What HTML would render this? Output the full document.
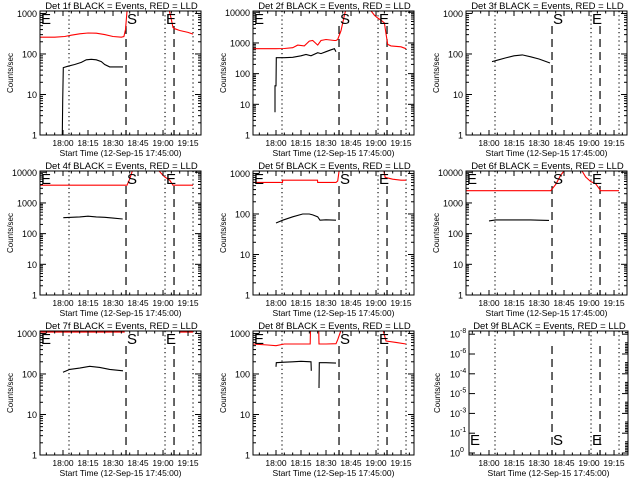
<!DOCTYPE html>
<html><head><meta charset="utf-8"><style>
html,body{margin:0;padding:0;background:#fff;}
svg{display:block;font-family:"Liberation Sans",sans-serif;}
</style></head><body>
<svg id="chart" width="640" height="480" viewBox="0 0 640 480" xmlns="http://www.w3.org/2000/svg">
<rect x="0" y="0" width="640" height="480" fill="#fff"/>
</svg>
<script>
// time in minutes since 17:45
const xTickTimes = [15,30,45,60,75,90];
const xTickLabels = ['18:00','18:15','18:30','18:45','19:00','19:15'];
const dottedTimes = [18.6,76.2,93];
const dashedTimes = [52.8,81.6];
const ticksSmall = ['1','10','100','1000'];
const ticksBig = ['1','10','100','1000','10000'];
const p9TickText = ['0','-1','-3','-5','-4','-6','-8'];

const p1BlackT=[14.6,14.8,15.2,18,22,26,29,32,35,38,40,43,51];
const p1BlackV=[1,7,46,50,55,62,72,74,72,65,55,48,48];
const p1RedT=[1.2,10,16,20,25,30,35,40,45,50,51.5,52.5,53.5,null,78.5,80,81,82,85,90,93];
const p1RedV=[260,260,270,290,315,330,325,300,270,260,270,400,1300,null,1300,700,450,420,380,340,310];

const p2BlackT=[14.4,14.4,15,15.2,20,25,30,33,36,40,42,45,48,50,51];
const p2BlackV=[5.5,40,40,330,330,340,380,420,380,480,450,520,600,650,520];
const p2RedT=[1.2,15,20,25,28,32,35,37,40,42,45,50,51,52,54,56,57,null,71,74,76,78,80,81,82,84,90,93];
const p2RedV=[650,650,660,700,850,800,1150,1200,850,1200,1300,1200,1200,1300,2500,8000,13000,null,13000,8000,6500,5500,4500,2000,900,800,750,650];

const p3BlackT=[16.8,20,25,30,35,40,45,51.6];
const p3BlackV=[65,70,80,90,95,85,75,60];
const p3RedT=[]; const p3RedV=[];

const p4BlackT=[15.2,20,25,30,35,40,45,50.8];
const p4BlackV=[330,340,350,370,350,340,320,300];
const p4RedT=[1.2,52,53.4,55,57,null,71.4,75,76,79,81,93];
const p4RedV=[3800,3800,3800,6000,13000,null,13000,8000,7000,5500,3800,3800];

const p5BlackT=[15,17,19,25,31,35,37,40,41.4,45,51];
const p5BlackV=[60,65,70,85,100,100,95,85,70,72,70];
const p5RedT=[1.2,18.9,19,39.9,40,51,52,53,null,79.5,80.5,85,90,93];
const p5RedV=[600,600,680,680,600,600,650,1300,null,1300,800,720,680,680];

const p6BlackT=[15,19,25,30,35,40,45,51];
const p6BlackV=[260,280,280,280,280,280,275,270];
const p6RedT=[1.2,52,55,58,61,null,70,73,76,79,82,93];
const p6RedV=[2500,2500,4000,8000,13000,null,13000,7000,5000,4200,2500,2500];

const p7BlackT=[15,19,25,31,37,43,51];
const p7BlackV=[110,130,140,155,145,130,120];
const p7RedT=[1.2,52,null,85,93];
const p7RedV=[1080,1080,null,1080,1080];

const p8BlackT=[15,15.2,20,25,30,36,36.2,null,40.8,41,45,51];
const p8BlackV=[150,190,195,200,205,200,120,null,45,190,190,185];
const p8RedT=[1.2,10,15,20,30,35.5,35.7,null,40.6,40.8,45,51,52,54,null,79,81,87,93];
const p8RedV=[550,520,500,550,550,550,1300,null,1300,550,550,560,700,1200,null,1300,650,600,550];

const panels = [
 {n:'1f',bt:p1BlackT,bv:p1BlackV,rt:p1RedT,rv:p1RedV,big:false,letters:[1,1,1]},
 {n:'2f',bt:p2BlackT,bv:p2BlackV,rt:p2RedT,rv:p2RedV,big:true,letters:[1,1,1]},
 {n:'3f',bt:p3BlackT,bv:p3BlackV,rt:p3RedT,rv:p3RedV,big:false,letters:[0,1,1]},
 {n:'4f',bt:p4BlackT,bv:p4BlackV,rt:p4RedT,rv:p4RedV,big:true,letters:[1,1,1]},
 {n:'5f',bt:p5BlackT,bv:p5BlackV,rt:p5RedT,rv:p5RedV,big:false,letters:[1,1,1]},
 {n:'6f',bt:p6BlackT,bv:p6BlackV,rt:p6RedT,rv:p6RedV,big:true,letters:[1,1,1]},
 {n:'7f',bt:p7BlackT,bv:p7BlackV,rt:p7RedT,rv:p7RedV,big:false,letters:[1,1,1]},
 {n:'8f',bt:p8BlackT,bv:p8BlackV,rt:p8RedT,rv:p8RedV,big:false,letters:[1,1,1]},
 {n:'9f',bt:[],bv:[],rt:[],rv:[],big:false,letters:[1,1,1],empty:true}
];

const NS='http://www.w3.org/2000/svg';
const svg=document.getElementById('chart');
function mk(tag,attrs,parent){const e=document.createElementNS(NS,tag);for(const k in attrs)e.setAttribute(k,attrs[k]);parent.appendChild(e);return e;}

const TOP=11, BOT=135;
panels.forEach((p,i)=>{
  const ox=(i%3)*213, oy=Math.floor(i/3)*160;
  const L= p.empty?43:40, R= p.empty?202:201;
  const g=mk('g',{transform:`translate(${ox},${oy})`},svg);
  
  
  const xs=t=>38+t*1.667;
  const ymax=p.big?11000:1150;
  const ys=v=>BOT-Math.log10(v)/Math.log10(ymax)*(BOT-TOP);
  const ti=mk('text',{x:(L+R)/2+1,y:9,'font-size':'9.5','text-anchor':'middle',fill:'#000'},g);
  ti.textContent='Det '+p.n+' BLACK = Events, RED = LLD';
  
  
  const cp=mk('clipPath',{id:'c'+i},g);
  mk('rect',{x:L,y:TOP,width:R-L,height:BOT-TOP},cp);
  dottedTimes.forEach(t=>{const l=mk('line',{x1:xs(t),x2:xs(t),y1:TOP,y2:BOT,stroke:'#000','stroke-width':1.1,'stroke-dasharray':'1.2 3'},g);
    
    });
  dashedTimes.forEach(t=>{const l=mk('line',{x1:xs(t),x2:xs(t),y1:TOP+15,y2:BOT,stroke:'#000','stroke-width':1.2,'stroke-dasharray':'8 5'},g);
    
    });
  function series(T,V,color,name){
    if(!T.length)return;
    let d='',pen=false;
    for(let k=0;k<T.length;k++){
      if(T[k]===null){pen=false;continue;}
      d+=(pen?'L':'M')+xs(T[k]).toFixed(1)+','+ys(V[k]).toFixed(1);pen=true;
    }
    const pa=mk('path',{d:d,fill:'none',stroke:color,'stroke-width':1.1,'clip-path':`url(#c${i})`},g);
    
    
  }
  series(p.rt,p.rv,'#f00','lld-red-series');
  series(p.bt,p.bv,'#000','events-black-series');
  const ly=p.empty?125:24;
  const letterDefs=[['E',L+1],['S',xs(dashedTimes[0])+1],['E',xs(dottedTimes[1])+1]];
  letterDefs.forEach((ld,k)=>{ if(!p.letters[k])return;
    const t=mk('text',{x:ld[1],y:ly,'font-size':'15',fill:'#000'},g);
    t.textContent=ld[0];
    
    });
  const bx=mk('rect',{x:L,y:TOP,width:R-L,height:BOT-TOP,fill:'none',stroke:'#000','stroke-width':1},g);
  
  
  for(let t=5;t<98;t+=5){const x=xs(t);if(x<L||x>R)continue;const len=(t%15===0)?5:2.5;
    mk('line',{x1:x,x2:x,y1:BOT,y2:BOT-len,stroke:'#000'},g);mk('line',{x1:x,x2:x,y1:TOP,y2:TOP+len,stroke:'#000'},g);}
  xTickTimes.forEach((t,k)=>{const tx=mk('text',{x:xs(t),y:146,'font-size':'8.5','text-anchor':'middle',fill:'#000'},g);
    tx.textContent=xTickLabels[k];
    
    });
  const xt=mk('text',{x:(L+R)/2,y:156,'font-size':'8.5','text-anchor':'middle',fill:'#000'},g);
  xt.textContent='Start Time (12-Sep-15 17:45:00)';
  
  
  const yt=mk('text',{x:0,y:0,'font-size':'8','text-anchor':'middle',fill:'#000',transform:`translate(${p.empty?14:13},73) rotate(-90)`},g);
  yt.textContent='Counts/sec';
  
  
  if(!p.empty){
    const labels=p.big?ticksBig:ticksSmall;
    labels.forEach((lab,k)=>{const y=ys(Math.pow(10,k));
      mk('line',{x1:L,x2:L+6,y1:y,y2:y,stroke:'#000'},g);mk('line',{x1:R,x2:R-6,y1:y,y2:y,stroke:'#000'},g);
      const tx=mk('text',{x:L-3,y:y+3.5,'font-size':'9','text-anchor':'end',fill:'#000'},g);
      tx.textContent=lab;
      
      
      for(let m=2;m<10;m++){const v=m*Math.pow(10,k);if(v>ymax)break;const yy=ys(v);
        mk('line',{x1:L,x2:L+3,y1:yy,y2:yy,stroke:'#000'},g);mk('line',{x1:R,x2:R-3,y1:yy,y2:yy,stroke:'#000'},g);}
    });
  } else {
    p9TickText.forEach((e,k)=>{const y=133-k*19.8;
      mk('line',{x1:L,x2:L+6,y1:y,y2:y,stroke:'#000'},g);mk('line',{x1:R,x2:R-6,y1:y,y2:y,stroke:'#000'},g);
      for(let m=1;m<8;m++){const yy=y-m*1.6;if(yy<TOP)break;mk('line',{x1:R,x2:R-3,y1:yy,y2:yy,stroke:'#000'},g);}
      const tx=mk('text',{x:L-9,y:y+3.5,'font-size':'9','text-anchor':'end',fill:'#000'},g);
      tx.textContent='10';
      
      
      const sp=mk('text',{x:L-9,y:y-1,'font-size':'7','text-anchor':'start',fill:'#000'},g);
      sp.textContent=e;
      
      
    });
  }
});
</script>
</body></html>
